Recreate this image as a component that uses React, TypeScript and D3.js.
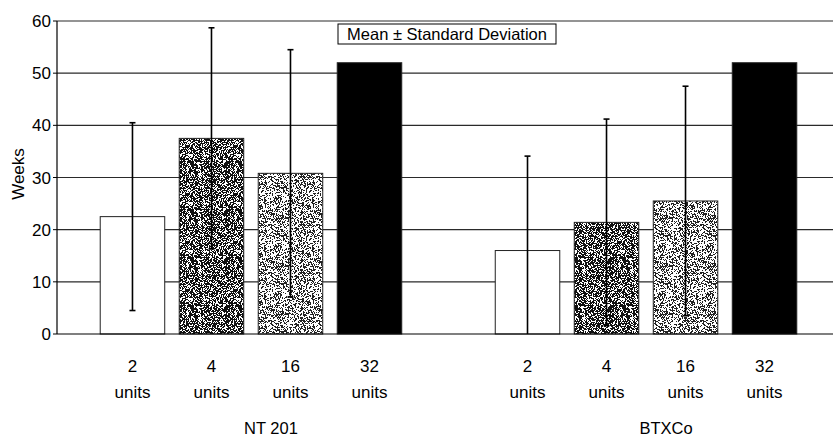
import React from "react";
import * as d3 from "d3";

const groups = ["NT 201", "BTXCo"];
const doses = ["2", "4", "16", "32"];
const ntMeans = [22.5, 37.5, 30.8, 52];
const ntSD = [18, 21.2, 23.7, 0];
const btxMeans = [16, 21.4, 25.5, 52];
const btxSD = [18.1, 19.8, 22, 0];
const yTicks = [0, 10, 20, 30, 40, 50, 60];
const legendText = "Mean \u00b1 Standard Deviation";
const yLabel = "Weeks";

const W = 833;
const H = 439;
const FONT = "'Liberation Sans', Arial, sans-serif";

// deterministic stipple texture path
function stipple(size: number, density: number, seed: number): string {
  let s = seed >>> 0;
  const rnd = () => {
    s = (s * 1664525 + 1013904223) >>> 0;
    return s / 4294967296;
  };
  let d = "";
  for (let y = 0; y < size; y++) {
    for (let x = 0; x < size; x++) {
      if (rnd() < density) d += `M${x} ${y}h1v1h-1z`;
    }
  }
  return d;
}

export default function App() {
  const x0 = 57;
  const yScale = d3.scaleLinear().domain([0, 60]).range([334, 21]);
  const slots = d3.range(9).map(String);
  const xScale = d3
    .scaleBand<string>()
    .domain(slots)
    .range([x0, 840])
    .paddingInner(0.1835)
    .paddingOuter(0.547);
  const bw = xScale.bandwidth();

  const fills = ["#ffffff", "url(#darkDots)", "url(#lightDots)", "#000000"];

  const bars: { slot: number; mean: number; sd: number; dose: number; group: number }[] = [];
  doses.forEach((_, i) => {
    bars.push({ slot: i, mean: ntMeans[i], sd: ntSD[i], dose: i, group: 0 });
    bars.push({ slot: 5 + i, mean: btxMeans[i], sd: btxSD[i], dose: i, group: 1 });
  });

  const darkPath = React.useMemo(() => stipple(48, 0.62, 12345), []);
  const lightPath = React.useMemo(() => stipple(48, 0.42, 98765), []);

  const groupCenters = [0, 1].map((g) => {
    const a = xScale(String(g * 5))! + bw / 2;
    const b = xScale(String(g * 5 + 3))! + bw / 2;
    return (a + b) / 2 + 20;
  });

  return (
    <svg
      width={W}
      height={H}
      style={{ position: "absolute", left: 0, top: 0, background: "#fff" }}
      fontFamily={FONT}
    >
      <defs>
        <pattern id="darkDots" width={48} height={48} patternUnits="userSpaceOnUse">
          <rect width={48} height={48} fill="#fff" />
          <path d={darkPath} fill="#111" />
        </pattern>
        <pattern id="lightDots" width={48} height={48} patternUnits="userSpaceOnUse">
          <rect width={48} height={48} fill="#fff" />
          <path d={lightPath} fill="#222" />
        </pattern>
      </defs>
      <rect width={W} height={H} fill="#fff" />

      {/* gridlines */}
      {yTicks.filter((t) => t > 0).map((t) => (
        <line key={t} x1={x0} x2={W} y1={yScale(t)} y2={yScale(t)} stroke="#2a2a2a" strokeWidth={1.1} />
      ))}

      {/* bars */}
      {bars.map((b, i) => {
        const x = xScale(String(b.slot))!;
        return (
          <rect
            key={i}
            x={x}
            y={yScale(b.mean)}
            width={bw}
            height={yScale(0) - yScale(b.mean)}
            fill={fills[b.dose]}
            stroke="#222"
            strokeWidth={1}
          />
        );
      })}

      {/* error bars */}
      {bars.filter((b) => b.sd > 0).map((b, i) => {
        const cx = xScale(String(b.slot))! + bw / 2;
        const top = b.mean + b.sd;
        const bot = Math.max(0, b.mean - b.sd);
        return (
          <g key={i} stroke="#000">
            <line x1={cx} x2={cx} y1={yScale(top)} y2={yScale(bot)} strokeWidth={1.6} />
            <line x1={cx - 3} x2={cx + 3} y1={yScale(top)} y2={yScale(top)} strokeWidth={1.6} />
            {bot > 0 && (
              <line x1={cx - 3} x2={cx + 3} y1={yScale(bot)} y2={yScale(bot)} strokeWidth={1.6} />
            )}
          </g>
        );
      })}

      {/* axes */}
      <line x1={x0} x2={x0} y1={yScale(60)} y2={yScale(0)} stroke="#000" strokeWidth={1.2} />
      <line x1={x0} x2={W} y1={yScale(0)} y2={yScale(0)} stroke="#000" strokeWidth={1.2} />
      {yTicks.map((t) => (
        <g key={t}>
          <line x1={x0 - 4} x2={x0} y1={yScale(t)} y2={yScale(t)} stroke="#000" />
          <text
            x={x0 - 6}
            y={yScale(t) + 6}
            textAnchor="end"
            fontSize={17}
            fill="#000"
          >
            {t}
          </text>
        </g>
      ))}
      <text
        transform={`translate(24, ${174}) rotate(-90)`}
        textAnchor="middle"
        fontSize={17}
        fill="#000"
      >
        {yLabel}
      </text>

      {/* legend box */}
      <rect x={338} y={24} width={218} height={20} fill="#fff" stroke="#000" strokeWidth={1} />
      <text x={447} y={40} textAnchor="middle" fontSize={16.5} fill="#000">
        {legendText}
      </text>

      {/* category labels */}
      {bars.map((b, i) => {
        const cx = xScale(String(b.slot))! + bw / 2;
        return (
          <g key={i}>
            <text x={cx} y={372} textAnchor="middle" fontSize={17} fill="#000">
              {doses[b.dose]}
            </text>
            <text x={cx} y={398} textAnchor="middle" fontSize={17} fill="#000">
              units
            </text>
          </g>
        );
      })}
      {groups.map((g, i) => (
        <text key={g} x={groupCenters[i]} y={434} textAnchor="middle" fontSize={16.5} fill="#000">
          {g}
        </text>
      ))}
    </svg>
  );
}
